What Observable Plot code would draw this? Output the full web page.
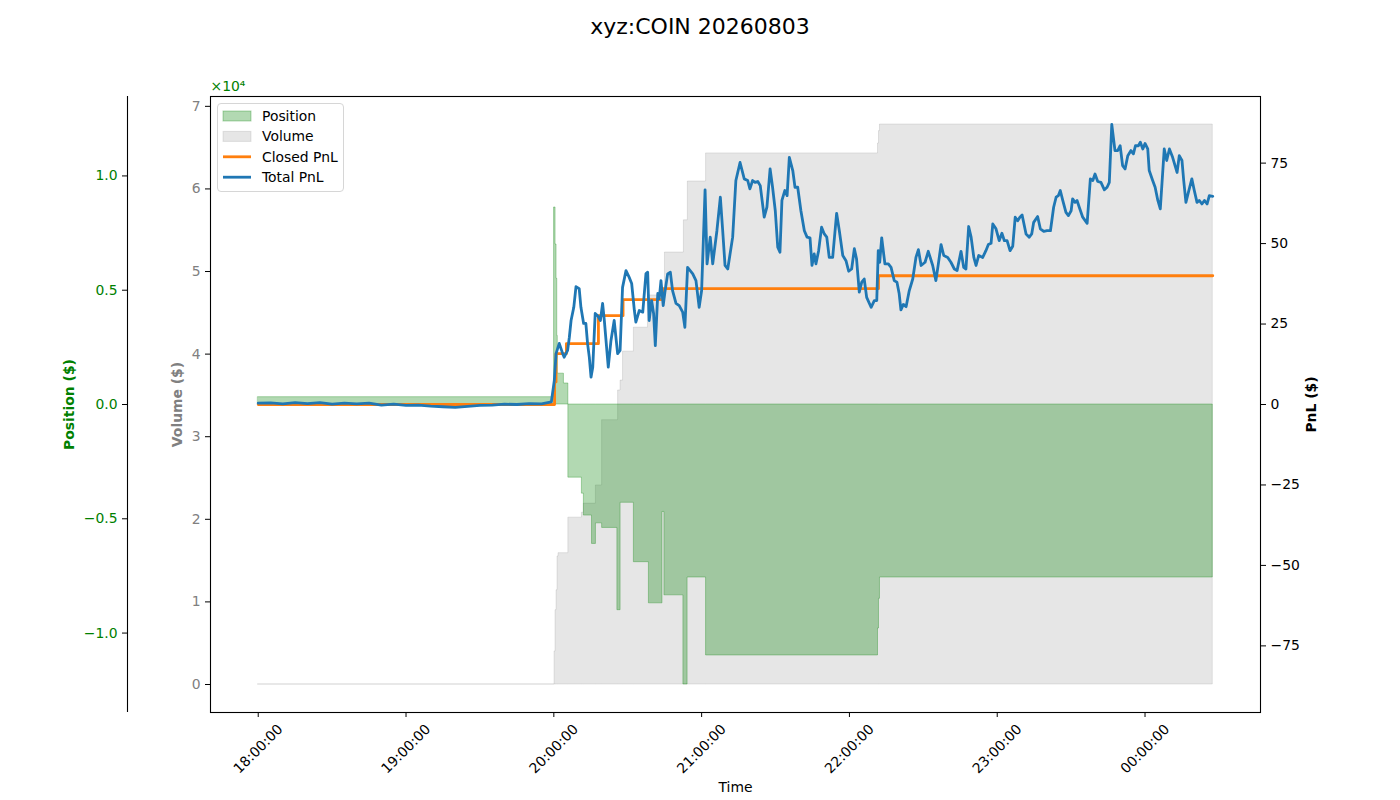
<!DOCTYPE html>
<html>
<head>
<meta charset="utf-8">
<script src="https://cdn.jsdelivr.net/npm/d3@7"></script>
<script src="https://cdn.jsdelivr.net/npm/@observablehq/plot@0.6"></script>
<style>
  body { margin: 0; background: #fff; font-family: "DejaVu Sans", sans-serif; }
  #wrap { position: relative; width: 1400px; height: 800px; }
  #title { height: 56px; line-height: 54px; text-align: center; font-size: 22px; color: #000; }
  #legend { position: absolute; left: 217px; top: 103px; width: 127px; height: 89px; box-sizing: border-box;
            border: 1px solid #d6d6d6; border-radius: 4px; background: rgba(255,255,255,0.8); }
  #legend svg { position: absolute; left: -1px; top: -1px; }
</style>
</head>
<body>
<div id="wrap">
  <div id="title">xyz:COIN 20260803</div>
  <div id="chart"></div>
  <div id="legend"></div>
</div>
<script>
// ---------------- data (minutes after 18:00 UTC on 2026-08-03) ----------------
const sessionStart = "2026-08-03T18:00:00Z";
const endMinute = 387.5;

const pnlMinutes = [0,5,10,15,20,25,30,35,40,45,50,55,60,65,70,75,80,85,90,95,100,105,110,115,119,
  120.2,120.9,122.2,123.6,124.2,125.6,126.3,127.0,128.1,129.0,130.3,131.0,132.1,133.0,133.7,134.4,135.1,135.8,
  136.8,137.8,138.9,139.8,140.5,142.1,143.2,144.5,145.9,146.9,147.9,149.3,150.6,151.6,152.7,153.3,154.7,156.1,
  157.4,158.1,158.7,159.7,160.5,161.2,162.2,162.8,163.5,164.4,165.1,166.2,167.3,168.2,169.6,170.9,172.3,173.2,
  174.3,176.4,177.7,179.0,180.0,181.4,182.2,183.5,184.5,186.2,187.6,188.5,189.5,190.6,192.6,193.9,195.6,197.3,
  198.7,199.6,200.7,201.7,202.8,203.8,205.4,206.5,207.8,208.8,209.9,210.9,211.8,212.6,213.8,214.7,215.6,217.0,
  217.9,219.0,220.3,221.7,222.8,224.0,224.8,225.7,226.4,227.5,228.7,229.8,230.8,231.8,233.2,234.8,235.9,237.3,
  238.6,239.7,240.9,242.0,242.9,244.0,245.0,246.0,247.0,248.8,250.1,251.1,251.7,252.3,253.1,254.4,255.8,256.9,
  258.2,259.3,260.2,260.9,261.9,263.0,264.3,265.7,267.0,268.0,269.1,270.7,272.0,273.8,275.1,276.1,277.2,278.3,
  279.9,281.2,282.6,283.7,285.3,286.4,287.3,288.4,289.4,290.5,291.4,292.5,294.1,295.4,296.4,297.5,298.2,299.5,
  300.8,301.9,302.9,304.0,305.2,306.3,307.3,308.3,309.2,310.1,311.7,313.0,314.0,314.8,316.4,317.5,318.9,320.2,
  321.6,322.9,323.9,324.8,325.6,326.6,327.9,328.9,330.0,330.6,331.6,332.4,333.3,334.7,336.5,337.8,338.8,339.7,
  340.8,342.1,343.5,344.6,345.5,346.5,347.8,348.9,349.9,350.9,351.9,353.0,354.3,355.3,356.1,357.3,358.1,359.1,
  360.0,361.1,361.7,363.1,364.1,365.2,366.2,367.8,368.8,369.9,371.2,373.0,373.9,375.0,375.7,376.6,377.6,379.0,
  380.0,381.1,382.0,383.1,384.1,385.2,386.1,387.5];
const totalPnl = [0.4,0.5,0.2,0.6,0.3,0.6,0.1,0.4,0.2,0.4,-0.2,0.1,-0.3,-0.2,-0.5,-0.7,-0.9,-0.6,-0.3,-0.2,0.1,0.0,0.3,0.2,0.8,
  7.5,15.8,19.0,15.8,14.7,16.8,20.9,26.1,30.2,36.6,36.0,30.2,25.2,25.2,18.9,14.7,8.5,11.6,
  28.3,27.6,26.1,31.4,26.1,11.6,19.9,26.1,15.8,16.8,36.4,41.6,39.5,37.6,29.2,25.6,29.2,28.7,
  40.7,41.1,26.1,32.3,28.3,18.3,34.5,32.9,38.5,30.7,34.9,40.6,41.1,35.4,31.4,30.7,28.7,24.0,
  42.6,40.6,38.5,30.2,35.4,66.7,43.7,52.0,43.7,54.0,64.4,54.6,43.2,42.1,52.0,69.6,75.2,70.1,
  69.6,67.0,69.6,69.0,69.3,68.0,58.2,61.3,73.2,67.5,60.2,48.9,47.3,63.4,66.5,64.9,76.8,72.7,
  67.5,67.5,60.2,54.0,52.0,51.8,43.2,46.8,43.7,47.8,55.1,53.0,52.0,45.7,45.7,59.4,54.0,46.3,
  44.7,41.4,42.1,48.4,45.2,34.9,38.0,39.0,33.3,30.2,32.3,32.3,47.8,44.2,51.8,43.7,43.7,42.6,
  38.5,38.0,34.4,29.4,31.1,30.4,35.4,39.0,45.7,48.1,43.2,44.2,47.6,43.2,38.5,43.7,49.7,46.3,
  45.7,44.2,42.1,41.6,47.6,42.6,42.1,55.3,52.0,45.7,43.2,46.3,45.7,47.8,49.7,50.1,56.1,54.6,
  50.9,53.2,50.9,50.9,47.8,49.2,58.2,57.1,58.2,58.9,53.0,52.0,53.0,56.6,58.4,54.6,53.8,54.0,
  54.0,61.3,64.4,64.9,66.5,63.4,59.7,58.7,60.2,63.9,62.8,63.4,61.3,58.2,56.3,70.1,69.6,71.6,
  69.3,69.0,66.7,67.5,69.0,87.0,78.9,78.9,80.4,74.2,73.2,77.3,78.9,77.9,80.4,80.4,81.5,79.4,
  81.1,79.4,72.7,69.6,67.5,63.4,60.8,79.4,75.8,79.4,76.8,72.1,77.3,75.8,69.6,62.8,65.9,70.1,
  66.5,62.8,63.4,62.3,63.4,62.3,64.9,64.7];

const closedMinutes = [0, 120.3, 120.9, 125.1, 138.1, 148.1, 164.3, 251.8, 387.5];
const closedPnl     = [0, 7.0, 15.8, 18.9, 27.6, 32.6, 36.0, 40.0, 40.0];

const positionMinutes = [0, 120.1, 120.7, 121.1, 121.4, 121.6, 124.1, 125.9, 131.4, 132.2, 135.5, 137.1, 139.6,
  145.8, 147.1, 152.5, 158.6, 164.1, 164.9, 172.6, 174.3, 181.8, 251.6, 252.0, 252.4, 387.5];
const positionValues = [0.032, 0.862, 0.70, 0.55, 0.30, 0.135, 0.092, -0.32, -0.39, -0.486, -0.61, -0.52, -0.54,
  -0.90, -0.43, -0.69, -0.87, -0.47, -0.835, -1.225, -0.757, -1.098, -0.98, -0.85, -0.757, -0.757];

const volumeMinutes = [0, 120.3, 120.7, 121.1, 121.5, 121.9, 125.9, 131.4, 132.2, 137.1, 139.6, 146.1, 147.1,
  148.1, 152.5, 158.2, 165.1, 172.8, 174.4, 181.8, 251.6, 252.0, 252.4, 387.5];
const volumeValues = [0, 4000, 9000, 11400, 15500, 15900, 20200, 20800, 21900, 24100, 32000, 35600, 36800,
  40300, 43200, 47100, 52300, 56200, 60900, 64300, 65500, 67000, 67800, 67800];

const hourTicks = ["2026-08-03T18:00:00Z","2026-08-03T19:00:00Z","2026-08-03T20:00:00Z","2026-08-03T21:00:00Z",
  "2026-08-03T22:00:00Z","2026-08-03T23:00:00Z","2026-08-04T00:00:00Z"];
const pnlTicks = [-75, -50, -25, 0, 25, 50, 75];
const positionTicks = [-1.0, -0.5, 0.0, 0.5, 1.0];
const volumeTicks = [0, 10000, 20000, 30000, 40000, 50000, 60000, 70000];

const legendItems = [
  {label: "Position", kind: "patch", color: "green", opacity: 0.3},
  {label: "Volume", kind: "patch", color: "gray", opacity: 0.2},
  {label: "Closed PnL", kind: "line", color: "#ff7f0e"},
  {label: "Total PnL", kind: "line", color: "#1f77b4"}
];

// ---------------- build ----------------
const t0 = new Date(sessionStart).getTime();
const toDate = m => new Date(t0 + m * 60000);
const total = pnlMinutes.map((m, i) => ({t: toDate(m), v: totalPnl[i]}));
const closed = closedMinutes.map((m, i) => ({t: toDate(m), v: closedPnl[i]}));
const position = positionMinutes.map((m, i) => ({t: toDate(m), v: positionValues[i]}));
const volume = volumeMinutes.map((m, i) => ({t: toDate(m), v: volumeValues[i]}));
const hours = hourTicks.map(s => new Date(s));

const pnlLim = 1.1 * d3.max([...totalPnl, ...closedPnl], Math.abs);
const posLim = 1.1 * d3.max(positionValues, Math.abs);
const volMax = d3.max(volumeValues);
const volLo = -0.05 * volMax, volHi = 1.05 * volMax;
const posToY = p => p / posLim * pnlLim;
const yToPos = y => y / pnlLim * posLim;
const volToY = v => -pnlLim + (v - volLo) / (volHi - volLo) * 2 * pnlLim;
const yToVol = y => volLo + (y + pnlLim) / (2 * pnlLim) * (volHi - volLo);
const volZero = volToY(0);
const xDomain = [toDate(-0.05 * endMinute), toDate(1.05 * endMinute)];
const fmtHour = d3.utcFormat("%H:%M:%S");

const chart = Plot.plot({
  width: 1400, height: 744,
  marginTop: 40, marginBottom: 88, marginLeft: 210, marginRight: 140,
  style: {fontFamily: "DejaVu Sans", fontSize: "13.9px", background: "white", overflow: "visible"},
  x: {type: "utc", domain: xDomain, label: null},
  y: {domain: [-pnlLim, pnlLim], label: null},
  marks: [
    Plot.areaY(volume, {x: "t", y1: () => volZero, y2: d => volToY(d.v), curve: "step-after",
      fill: "gray", fillOpacity: 0.2, stroke: "gray", strokeOpacity: 0.2, strokeWidth: 1}),
    Plot.areaY(position, {x: "t", y1: () => 0, y2: d => posToY(d.v), curve: "step-after",
      fill: "green", fillOpacity: 0.3, stroke: "green", strokeOpacity: 0.3, strokeWidth: 1}),
    Plot.line(closed, {x: "t", y: "v", curve: "step-after", stroke: "#ff7f0e", strokeWidth: 2.8}),
    Plot.line(total, {x: "t", y: "v", stroke: "#1f77b4", strokeWidth: 2.8, strokeLinejoin: "round"}),
    Plot.frame({stroke: "black", strokeWidth: 1.1}),
    // right PnL axis
    Plot.axisY(pnlTicks, {anchor: "right", tickSize: 5, tickPadding: 5, label: null,
      tickFormat: d => d3.format("d")(d), fill: "black"}),
    // left volume axis
    Plot.axisY(volumeTicks.map(volToY), {anchor: "left", tickSize: 5, tickPadding: 5, label: null,
      tickFormat: d => String(Math.round(yToVol(d) / 10000) + 0), fill: "gray"}),
    // offset position axis
    Plot.axisY(positionTicks.map(posToY), {anchor: "left", dx: -83, tickSize: 5, tickPadding: 5, label: null,
      tickFormat: d => d3.format(".1f")(Math.round(yToPos(d) * 10) / 10 + 0), fill: "green"}),
    Plot.ruleX([xDomain[0]], {x: d => d, dx: -83, y1: () => -pnlLim, y2: () => pnlLim, stroke: "black", strokeWidth: 1.1}),
    // x axis
    Plot.axisX(hours, {tickSize: 5, tickFormat: () => "", label: null}),
    Plot.text(hours, {x: d => d, frameAnchor: "bottom", dy: 36.5, rotate: -45, text: d => fmtHour(d),
      textAnchor: "middle", lineAnchor: "middle", fill: "black"}),
    // axis titles
    Plot.text(["Time"], {text: d => d, frameAnchor: "bottom", dy: 75, textAnchor: "middle", lineAnchor: "middle", fill: "black"}),
    Plot.text(["Position ($)"], {text: d => d, frameAnchor: "left", dx: -141, rotate: -90, textAnchor: "middle",
      lineAnchor: "middle", fill: "green", fontWeight: "bold"}),
    Plot.text(["Volume ($)"], {text: d => d, frameAnchor: "left", dx: -33, rotate: -90, textAnchor: "middle",
      lineAnchor: "middle", fill: "gray", fontWeight: "bold"}),
    Plot.text(["PnL ($)"], {text: d => d, frameAnchor: "right", dx: 51, rotate: -90, textAnchor: "middle",
      lineAnchor: "middle", fill: "black", fontWeight: "bold"}),
    Plot.text(["×10⁴"], {text: d => d, frameAnchor: "top-left", dy: -10, textAnchor: "start",
      lineAnchor: "middle", fill: "green"})
  ]
});
document.getElementById("chart").appendChild(chart);

// legend
const lsvg = d3.select("#legend").append("svg").attr("width", 127).attr("height", 89)
  .style("font-family", "DejaVu Sans").style("font-size", "13.9px");
legendItems.forEach((it, i) => {
  const cy = 13 + i * 20.4;
  if (it.kind === "patch") {
    lsvg.append("rect").attr("x", 6).attr("y", cy - 5).attr("width", 28).attr("height", 10)
      .attr("fill", it.color).attr("fill-opacity", it.opacity)
      .attr("stroke", it.color).attr("stroke-opacity", it.opacity);
  } else {
    lsvg.append("line").attr("x1", 6).attr("x2", 34).attr("y1", cy).attr("y2", cy)
      .attr("stroke", it.color).attr("stroke-width", 2.8);
  }
  lsvg.append("text").attr("x", 45).attr("y", cy).attr("dominant-baseline", "central")
    .attr("fill", "#000").text(it.label);
});
</script>
</body>
</html>
